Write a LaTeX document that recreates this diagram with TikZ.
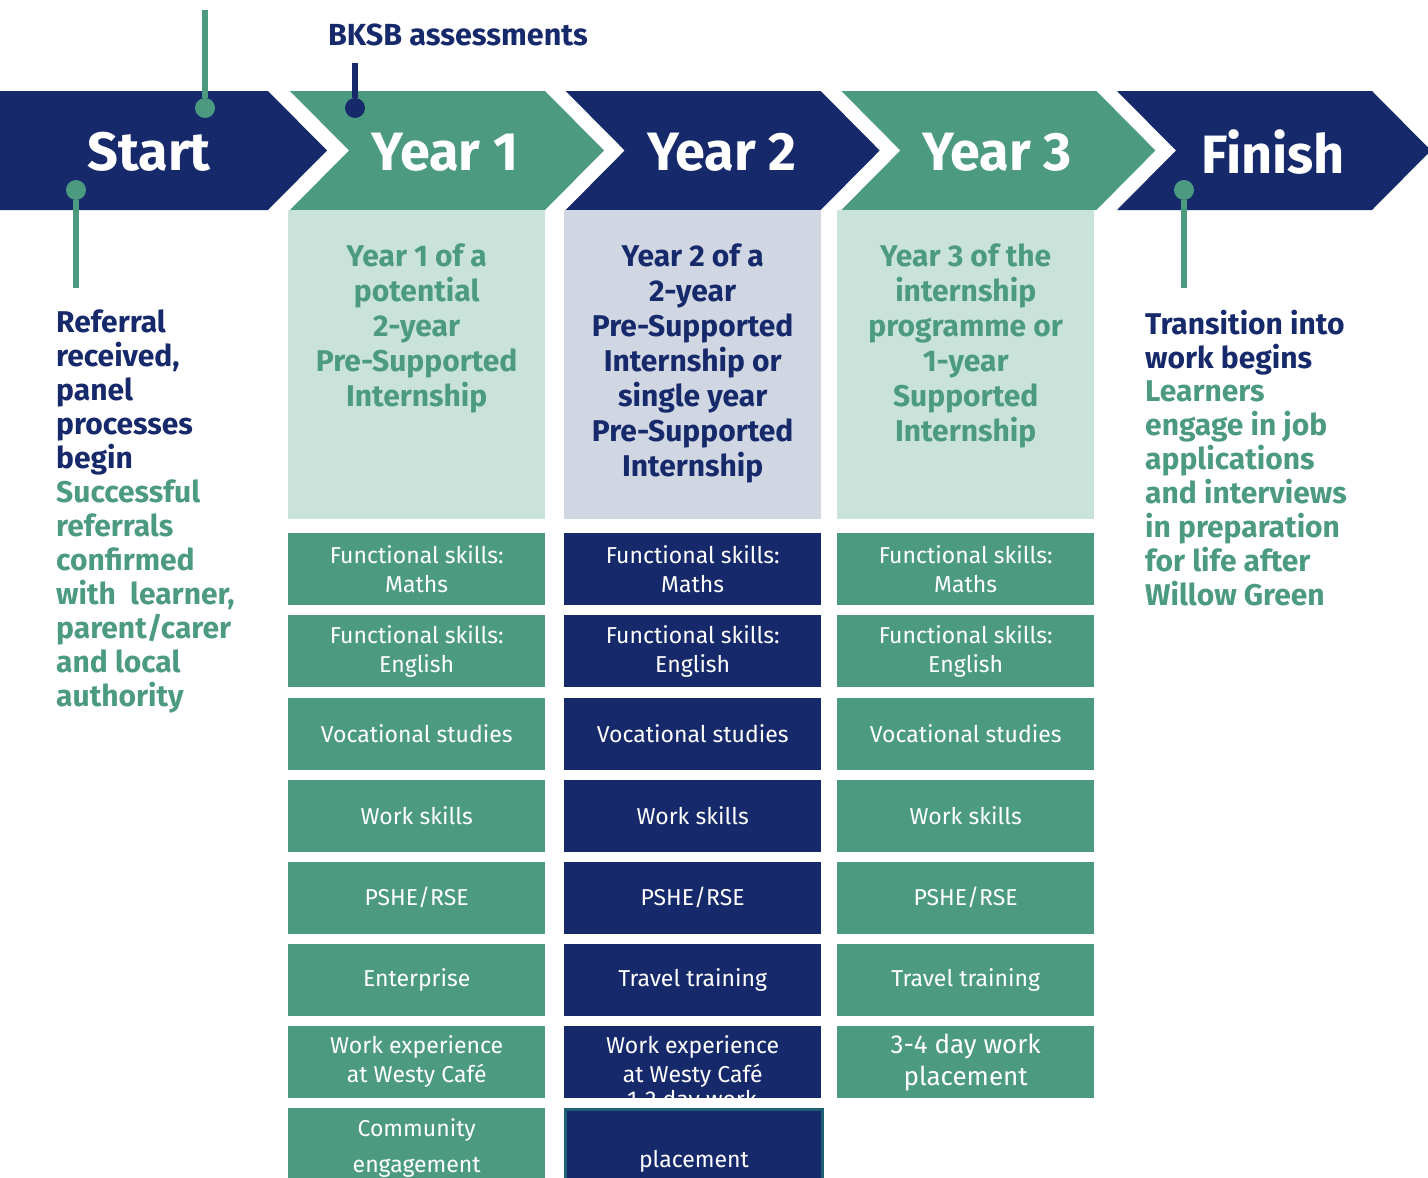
\documentclass[tikz,border=0pt]{standalone}
\usepackage{fontspec}
\setmainfont{Fira Sans}
\usetikzlibrary{positioning}

\definecolor{wgNavy}{RGB}{22,41,107}
\definecolor{wgGreen}{RGB}{76,155,129}
\definecolor{wgMint}{RGB}{201,227,218}
\definecolor{wgMist}{RGB}{208,214,226}
\definecolor{wgTeal}{RGB}{30,95,115}

\begin{document}
\begin{tikzpicture}[x=1pt,y=-1pt,
            head/.style = {text=white,font=\fontsize{54}{54}\selectfont\bfseries},
            blurb/.style = {align=center,inner sep=0pt,anchor=north,
                font=\fontsize{30}{35}\selectfont\bfseries},
            side/.style = {align=left,inner sep=0pt,anchor=north west,
                font=\fontsize{30}{34}\selectfont\bfseries},
            panel/.style = {fill=#1,minimum width=257pt,minimum height=309pt,
                anchor=north west,inner sep=0pt},
            cell/.style = {fill=#1,text=white,minimum width=257pt,minimum height=72pt,
                anchor=north west,align=center,inner sep=0pt,
                font=\fontsize{23}{29}\selectfont},
            pindot/.style = {circle,fill=#1,minimum size=20pt,inner sep=0pt},
            pinline/.style = {draw=#1,line width=6pt}]
            \useasboundingbox (0,0) rectangle (1428,1178);
            % chevron band
            \fill[wgNavy] (0,91) -- (268,91) -- (327,150.5) -- (268,210) -- (0,210) -- cycle;
            \foreach \L/\col in {290/wgGreen,565.7/wgNavy,841.4/wgGreen,1117/wgNavy}
                \fill[\col] (\L,91) -- ++(255,0) -- ++(59,59.5) -- ++(-59,59.5)
                    -- ++(-255,0) -- ++(59,-59.5) -- cycle;
            \node[head] (start) at (149,152) {Start};
            \node[head] (yr1) at (445,152) {Year 1};
            \node[head] (yr2) at (722,152) {Year 2};
            \node[head] (yr3) at (997,152) {Year 3};
            \node[head] (finish) at (1273,152) {Finish};
            % pins
            \node[pindot=wgGreen] (startdot) at (205,108) {};
            \coordinate (starttop) at (205,10);
            \node[pindot=wgNavy] (bksbdot) at (355,108) {};
            \coordinate (bksbtop) at (355,63);
            \node[text=wgNavy,font=\fontsize{30.5}{34}\selectfont\bfseries] (bksb) at (458,35) {BKSB assessments};
            \node[pindot=wgGreen] (refdot) at (76,190) {};
            \coordinate (refend) at (76,288);
            \node[pindot=wgGreen] (findot) at (1184,190) {};
            \coordinate (finend) at (1184,288);
            \path[pinline=wgGreen] (starttop) -- (startdot)
                (refdot) -- (refend)
                (findot) -- (finend);
            \path[pinline=wgNavy] (bksbtop) -- (bksbdot);
            % start and finish notes
            \node[side,text=wgNavy] (refnote) at (56,310) {Referral\\received,\\panel\\processes\\begin};
            \node[side,text=wgGreen] (refmore) at (56,480) {Successful\\referrals\\confirmed\\with~ learner,\\parent/carer\\and local\\authority};
            \node[side,text=wgNavy] (finnote) at (1145,310) {Transition into\\work begins};
            \node[side,text=wgGreen] (finmore) at (1145,381) {Learners\\engage in job\\applications\\and interviews\\in preparation\\for life after\\Willow Green};
            % year panels
            \node[panel=wgMint] (desc1) at (288,210) {};
            \node[panel=wgMist] (desc2) at (564,210) {};
            \node[panel=wgMint] (desc3) at (837,210) {};
            \node[blurb,text=wgGreen,below=34pt of desc1.north] (blurb1)
                {Year 1 of a\\potential\\2-year\\Pre-Supported\\Internship};
            \node[blurb,text=wgNavy,below=34pt of desc2.north] (blurb2)
                {Year 2 of a\\2-year\\Pre-Supported\\Internship or\\single year\\Pre-Supported\\Internship};
            \node[blurb,text=wgGreen,below=34pt of desc3.north] (blurb3)
                {Year 3 of the\\internship\\programme or\\1-year\\Supported\\Internship};
            % year 1 cells
            \foreach \txt [count=\r] in {{Functional skills:\\Maths},{Functional skills:\\English},
                    {Vocational studies},{Work skills},{PSHE/RSE},{Enterprise},{Work experience\\at Westy Café}}
                \node[cell=wgGreen] (one\r) at (288,{451+82.1*\r}) {\txt};
            \node[cell=wgGreen,minimum height=80pt,font=\fontsize{23}{36}\selectfont] (one8) at (288,1108)
                {Community\\engagement};
            % year 2 cells
            \foreach \txt [count=\r] in {{Functional skills:\\Maths},{Functional skills:\\English},
                    {Vocational studies},{Work skills},{PSHE/RSE},{Travel training},{Work experience\\at Westy Café}}
                \node[cell=wgNavy] (two\r) at (564,{451+82.1*\r}) {\txt};
            \begin{scope}
                \clip (two7.south west) rectangle (two7.north east);
                \node[text=white,font=\fontsize{23}{29}\selectfont] (two7more) at (692,1101) {1-2 day work};
            \end{scope}
            \node[cell=wgNavy,draw=wgTeal,line width=3pt,minimum height=80pt,
                font=\fontsize{23}{40}\selectfont] (two8) at (564,1108) {\mbox{}\\placement};
            % year 3 cells
            \foreach \txt [count=\r] in {{Functional skills:\\Maths},{Functional skills:\\English},
                    {Vocational studies},{Work skills},{PSHE/RSE},{Travel training}}
                \node[cell=wgGreen] (three\r) at (837,{451+82.1*\r}) {\txt};
            \node[cell=wgGreen,font=\fontsize{26}{32}\selectfont] (three7) at (837,1026)
                {3-4 day work\\placement};
        \end{tikzpicture}
\end{document}
